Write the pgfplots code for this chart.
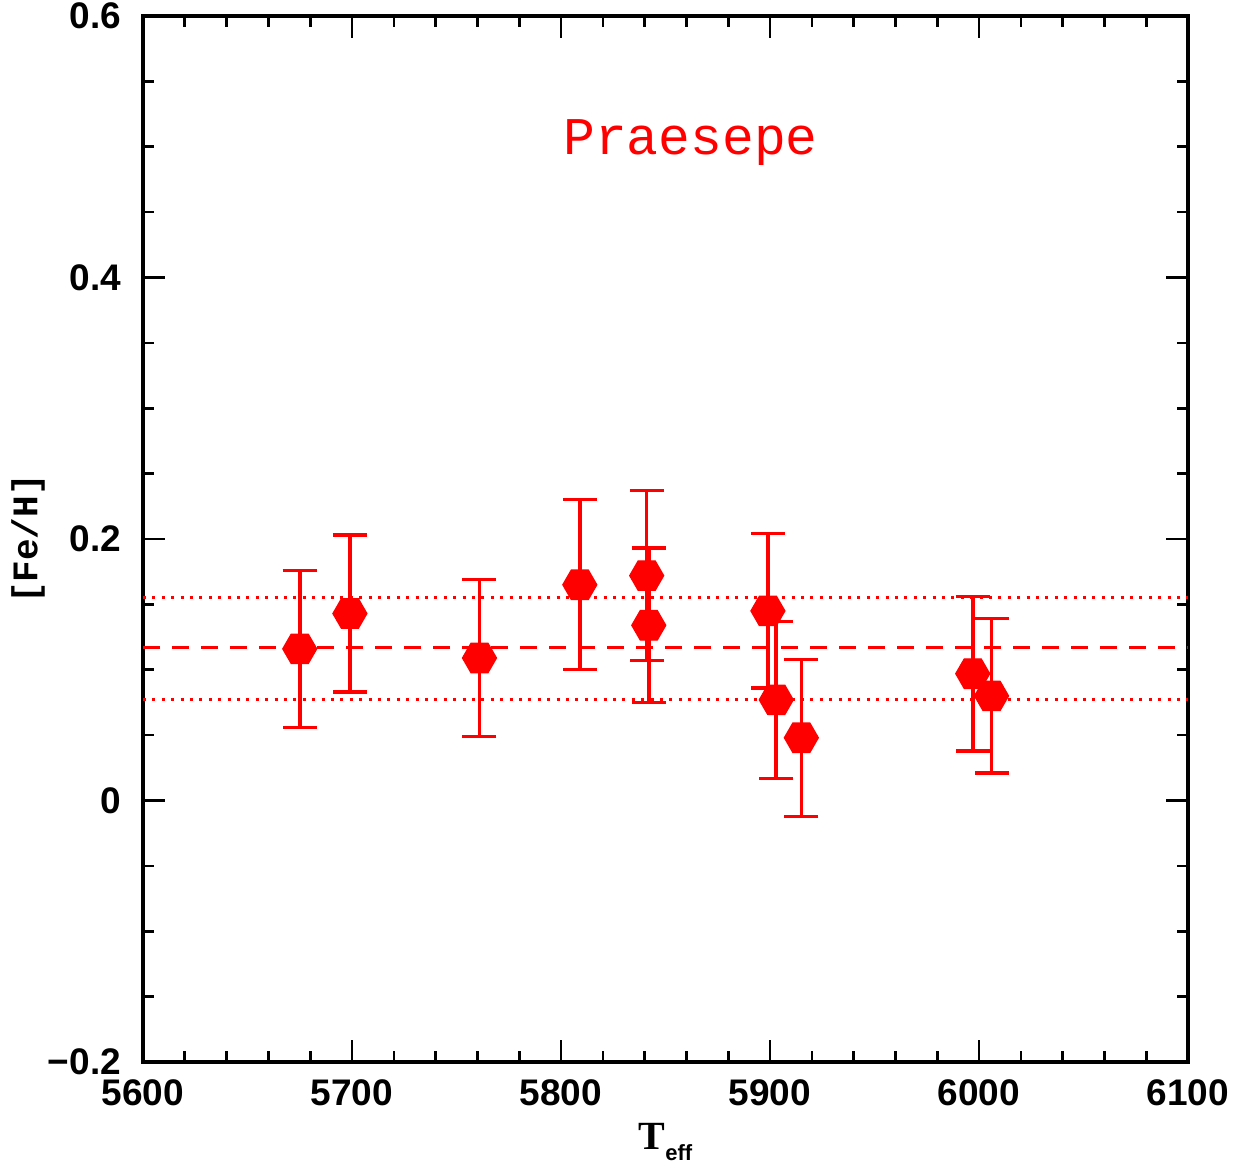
\documentclass[border=0pt]{standalone}
\usepackage{pgfplots}
\pgfplotsset{compat=1.18}
\usepackage{fontspec}
\setmainfont{Liberation Sans}
\newfontfamily\monofont{Liberation Mono}
\newfontfamily\seriffont{Liberation Serif}

\pgfdeclareplotmark{hexagon*}{%
  \pgfpathmoveto{\pgfqpointpolar{0}{\pgfplotmarksize}}%
  \pgfpathlineto{\pgfqpointpolar{60}{\pgfplotmarksize}}%
  \pgfpathlineto{\pgfqpointpolar{120}{\pgfplotmarksize}}%
  \pgfpathlineto{\pgfqpointpolar{180}{\pgfplotmarksize}}%
  \pgfpathlineto{\pgfqpointpolar{240}{\pgfplotmarksize}}%
  \pgfpathlineto{\pgfqpointpolar{300}{\pgfplotmarksize}}%
  \pgfpathclose
  \pgfusepathqfillstroke}

\pgfplotstableread{
x     y      e
5675  0.116  0.060
5699  0.143  0.060
5761  0.109  0.060
5809  0.165  0.065
5841  0.172  0.065
5842  0.134  0.059
5899  0.145  0.059
5903  0.077  0.060
5915  0.048  0.060
5997  0.097  0.059
6006  0.080  0.059
}\praesepe

\begin{document}
\begin{tikzpicture}
\path[use as bounding box] (-71.5pt,-53.5pt) rectangle (552pt,531pt);
\begin{axis}[
  at={(0,0)}, anchor=south west,
  scale only axis, width=522.5pt, height=523pt,
  xmin=5600, xmax=6100, ymin=-0.2, ymax=0.6,
  xtick={5600,5700,5800,5900,6000,6100},
  xticklabels={5600,5700,5800,5900,6000,6100},
  minor x tick num=4,
  ytick={-0.2,0,0.2,0.4,0.6},
  yticklabels={−0.2,0,0.2,0.4,0.6},
  minor y tick num=3,
  tick align=inside,
  major tick length=11pt, minor tick length=5.5pt,
  axis line style={line width=1.8pt},
  every tick/.style={black, line width=1.3pt},
  tick label style={font=\fontsize{18.5}{18.5}\selectfont\bfseries},
  xticklabel style={yshift=-5.5pt},
  yticklabel style={xshift=-7.5pt},
  every axis y label/.style={at={(axis description cs:-0.11,0.5)}, rotate=90, anchor=center},
  ylabel={\monofont\fontsize{18}{18}\selectfont\bfseries [Fe/H]},
  every axis x label/.style={at={(axis description cs:0.5,-0.0832)}, anchor=base},
  xlabel={\seriffont\fontsize{20}{20}\selectfont\bfseries T\raisebox{-5.5pt}{\rmfamily\fontsize{11}{11}\selectfont\bfseries eff}},
]
\addplot[red, line width=1.8pt, dash pattern=on 8.5pt off 6pt] coordinates {(5600,0.117) (6100,0.117)};
\addplot[red, line width=1.5pt, dash pattern=on 1.5pt off 3.2pt] coordinates {(5600,0.1556) (6100,0.1556)};
\addplot[red, line width=1.5pt, dash pattern=on 1.5pt off 3.2pt] coordinates {(5600,0.0776) (6100,0.0776)};
\addplot[red, only marks, mark=hexagon*, mark size=8.5pt,
  mark options={fill=red, draw=red, line width=0.6pt},
  error bars/.cd, y dir=both, y explicit,
  error bar style={line width=1.8pt, red},
  error mark options={rotate=90, red, mark size=8.5pt, line width=1.7pt}]
  table[x=x, y=y, y error=e] {\praesepe};
\node[red, anchor=base, font=\monofont\fontsize{26.5}{26.5}\selectfont] at (axis cs:5862,0.4937) {Praesepe};
\end{axis}
\end{tikzpicture}
\end{document}
